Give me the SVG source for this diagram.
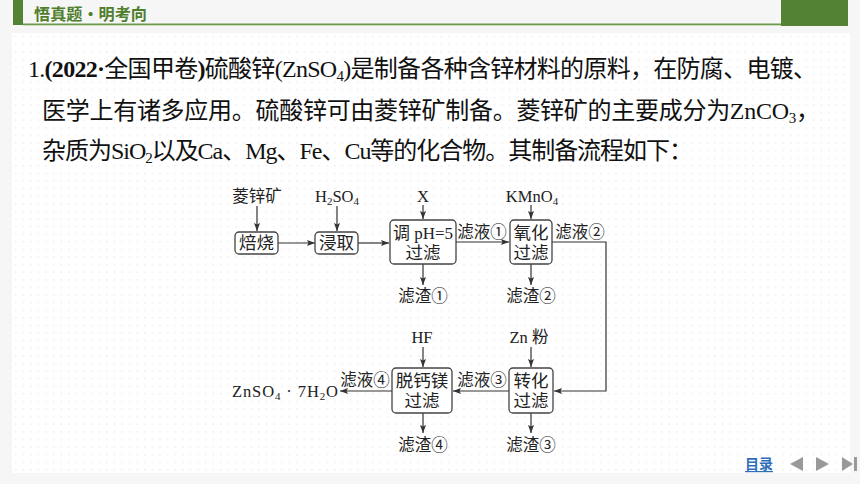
<svg xmlns="http://www.w3.org/2000/svg" width="860" height="484" viewBox="0 0 860 484">
<defs>
<pattern id="dots" x="12" y="33" width="7.6" height="7.6" patternUnits="userSpaceOnUse">
<rect x="3" y="3" width="1.2" height="1.2" fill="#e4e4e4"/>
</pattern>
<marker id="ah" viewBox="0 0 8 6" refX="8" refY="3" markerWidth="8" markerHeight="6" markerUnits="userSpaceOnUse" orient="auto">
<path d="M0,0 L8,3 L0,6 L1.5,3 Z" fill="#333"/>
</marker>
<style>
.para{font-family:"Liberation Serif","Noto Sans CJK SC",sans-serif;font-size:24px;fill:#111;}
.lbl{font-family:"Liberation Serif","Noto Sans CJK SC",serif;font-size:16.5px;fill:#222;text-anchor:middle;}
.bt{font-family:"Liberation Serif","Noto Sans CJK SC",serif;font-size:17.5px;fill:#222;text-anchor:middle;}
.box{fill:#fff;stroke:#444;stroke-width:1.3;}
.ln{fill:none;stroke:#333;stroke-width:1.2;}
.arr{fill:none;stroke:#333;stroke-width:1.2;marker-end:url(#ah);}
.sub{font-size:11px;}
</style>
</defs>
<rect x="0" y="0" width="860" height="484" fill="#f6f6f6"/>
<rect x="12" y="33" width="838" height="440" fill="#ffffff"/>
<rect x="12" y="33" width="838" height="440" fill="url(#dots)"/>

<g id="header">
<rect x="13" y="0" width="10" height="25" fill="#548235"/>
<rect x="23" y="23.5" width="758" height="1.8" fill="#6a9a4a"/>
<rect x="781" y="0" width="67" height="26" fill="#548235"/>
<text x="34" y="20" font-family="'Noto Sans CJK SC',sans-serif" font-size="16" font-weight="bold" fill="#4f7e2c" textLength="113" lengthAdjust="spacingAndGlyphs">悟真题·明考向</text>
</g>

<g id="question">
<text class="para" x="28" y="77" textLength="789" lengthAdjust="spacing">1.<tspan font-weight="bold">(2022·</tspan>全国甲卷<tspan font-weight="bold">)</tspan>硫酸锌(ZnSO<tspan dy="4" font-size="15">4</tspan><tspan dy="-4">)是制备各种含锌材料的原料，在防腐、电镀、</tspan></text>
<text class="para" x="42" y="119" textLength="778" lengthAdjust="spacing">医学上有诸多应用。硫酸锌可由菱锌矿制备。菱锌矿的主要成分为ZnCO<tspan dy="4" font-size="15">3</tspan><tspan dy="-4">，</tspan></text>
<text class="para" x="42" y="159" textLength="651" lengthAdjust="spacing">杂质为SiO<tspan dy="4" font-size="15">2</tspan><tspan dy="-4">以及Ca、Mg、Fe、Cu等的化合物。其制备流程如下：</tspan></text>
</g>

<g id="connectors">
<line class="arr" x1="257" y1="206" x2="257" y2="231"/>
<line class="arr" x1="278" y1="243" x2="315" y2="243"/>
<line class="arr" x1="337" y1="206" x2="337" y2="231"/>
<line class="arr" x1="358" y1="243" x2="389" y2="243"/>
<line class="arr" x1="423" y1="205" x2="423" y2="219"/>
<line class="arr" x1="456" y1="242" x2="509" y2="242"/>
<line class="arr" x1="531" y1="205" x2="531" y2="219"/>
<polyline class="arr" points="552,242 606,242 606,391 554,391"/>
<line class="arr" x1="423" y1="264" x2="423" y2="285"/>
<line class="arr" x1="531" y1="264" x2="531" y2="285"/>
<line class="arr" x1="423" y1="347" x2="423" y2="367"/>
<line class="arr" x1="531" y1="347" x2="531" y2="367"/>
<line class="arr" x1="509" y1="391" x2="453" y2="391"/>
<line class="arr" x1="392" y1="391" x2="340" y2="391"/>
<line class="arr" x1="423" y1="413" x2="423" y2="433"/>
<line class="arr" x1="531" y1="413" x2="531" y2="433"/>
</g>

<g id="labels">
<text class="lbl" x="257" y="202">菱锌矿</text>
<text class="lbl" x="337" y="202">H<tspan class="sub" dy="3">2</tspan><tspan dy="-3">SO</tspan><tspan class="sub" dy="3">4</tspan></text>
<text class="lbl" x="423" y="202">X</text>
<text class="lbl" x="532" y="202">KMnO<tspan class="sub" dy="3">4</tspan></text>
<text class="lbl" x="482" y="238">滤液①</text>
<text class="lbl" x="580" y="238">滤液②</text>
<text class="lbl" x="423" y="302">滤渣①</text>
<text class="lbl" x="531" y="302">滤渣②</text>
<text class="lbl" x="422" y="343">HF</text>
<text class="lbl" x="529" y="343">Zn 粉</text>
<text class="lbl" x="482" y="386">滤液③</text>
<text class="lbl" x="365" y="386">滤液④</text>
<text class="lbl" x="423" y="451">滤渣④</text>
<text class="lbl" x="531" y="451">滤渣③</text>
<text class="lbl" x="285" y="397" textLength="106" lengthAdjust="spacing">ZnSO<tspan class="sub" dy="3">4</tspan><tspan dy="-3"> · 7H</tspan><tspan class="sub" dy="3">2</tspan><tspan dy="-3">O</tspan></text>
</g>

<g id="n-beishao">
<rect class="box" x="235" y="232" width="43" height="22" rx="4"/>
<text class="bt" x="256.5" y="249">焙烧</text>
</g>
<g id="n-jinqu">
<rect class="box" x="315" y="232" width="43" height="22" rx="4"/>
<text class="bt" x="336.5" y="249">浸取</text>
</g>
<g id="n-tiaoph">
<rect class="box" x="390" y="220" width="66" height="44" rx="4"/>
<text class="bt" x="423" y="239" textLength="60" lengthAdjust="spacingAndGlyphs">调 pH=5</text>
<text class="bt" x="423" y="259">过滤</text>
</g>
<g id="n-yanghua">
<rect class="box" x="510" y="220" width="42" height="44" rx="4"/>
<text class="bt" x="531" y="239">氧化</text>
<text class="bt" x="531" y="259">过滤</text>
</g>
<g id="n-zhuanhua">
<rect class="box" x="509" y="368" width="44" height="45" rx="4"/>
<text class="bt" x="531" y="387">转化</text>
<text class="bt" x="531" y="407">过滤</text>
</g>
<g id="n-tuogai">
<rect class="box" x="392" y="368" width="60" height="45" rx="4"/>
<text class="bt" x="422" y="387">脱钙镁</text>
<text class="bt" x="422" y="407">过滤</text>
</g>

<g id="nav">
<text x="745" y="469" font-family="'Noto Sans CJK SC',sans-serif" font-size="14" font-weight="bold" fill="#2f6fba">目录</text>
<rect x="745" y="471" width="28" height="1.2" fill="#2f6fba"/>
<polygon points="803,457 803,471 790,464" fill="#999"/>
<polygon points="816,457 816,471 829,464" fill="#999"/>
<polygon points="842,457 842,471 853,464" fill="#999"/>
<rect x="854" y="457" width="3" height="14" fill="#999"/>
</g>
</svg>
